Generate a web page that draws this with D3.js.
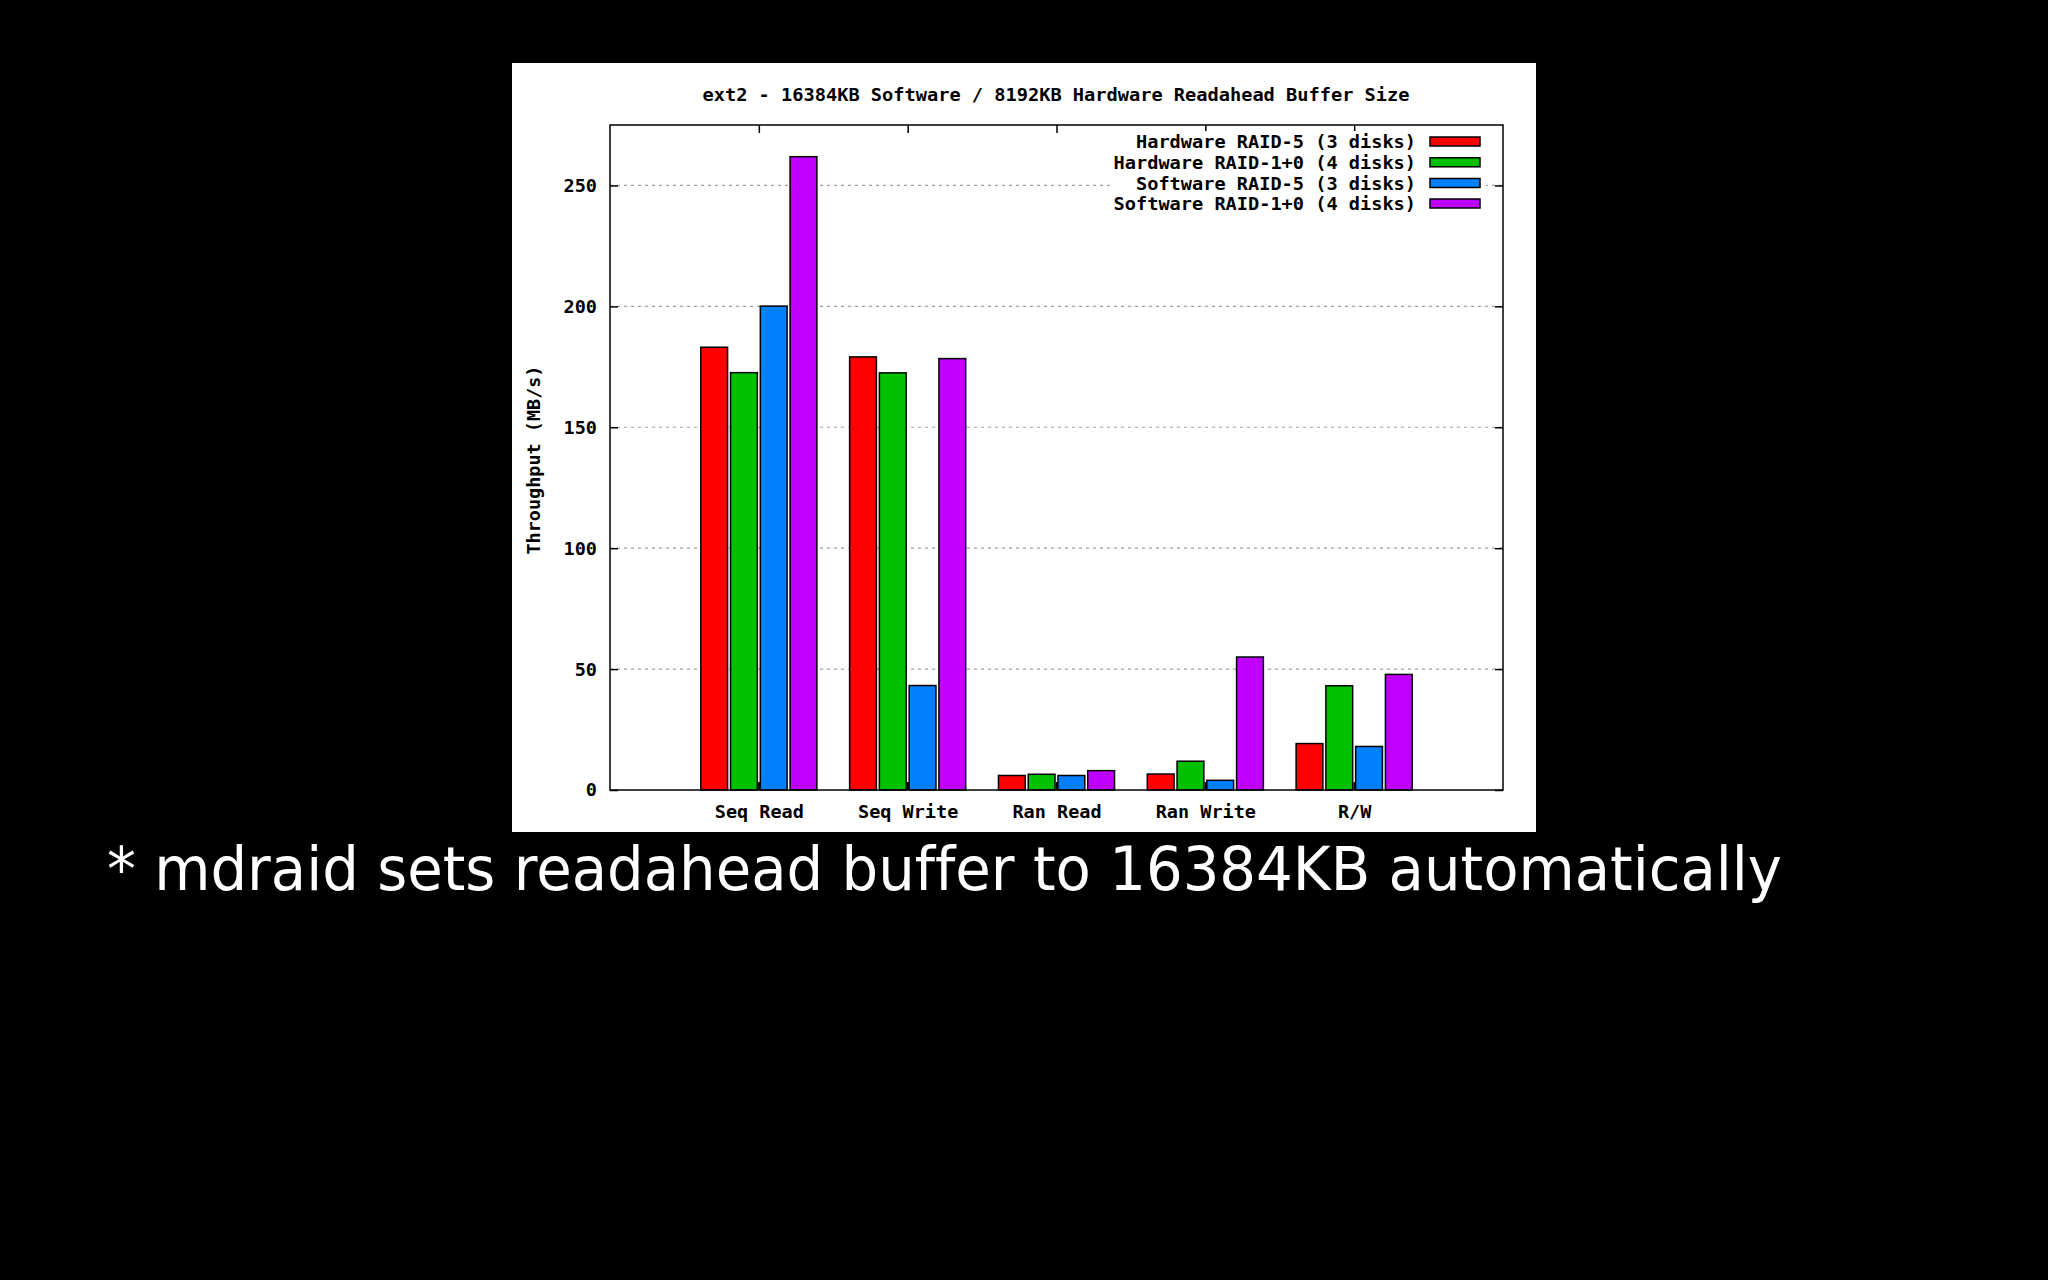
<!DOCTYPE html>
<html>
<head>
<meta charset="utf-8">
<script src="https://cdn.jsdelivr.net/npm/d3@7"></script>
<style>
  html, body { margin: 0; padding: 0; background: #000; }
  svg { display: block; }
  text { font-variant-ligatures: none; font-feature-settings: "liga" 0, "clig" 0; }
</style>
</head>
<body>
<script>
// ---- data ----
const categories = ["Seq Read", "Seq Write", "Ran Read", "Ran Write", "R/W"];
const seriesNames = [
  "Hardware RAID-5 (3 disks)",
  "Hardware RAID-1+0 (4 disks)",
  "Software RAID-5 (3 disks)",
  "Software RAID-1+0 (4 disks)"
];
const hwRaid5  = [183.1, 179.1, 6.0, 6.6, 19.2];
const hwRaid10 = [172.6, 172.5, 6.5, 11.9, 43.1];
const swRaid5  = [200.1, 43.2, 6.0, 4.0, 18.0];
const swRaid10 = [261.9, 178.4, 8.0, 55.0, 47.8];
const seriesValues = [hwRaid5, hwRaid10, swRaid5, swRaid10];
const seriesColors = ["#ff0000", "#00c000", "#0080ff", "#c000ff"];
const yTicks = [0, 50, 100, 150, 200, 250];
const titleText = "ext2 - 16384KB Software / 8192KB Hardware Readahead Buffer Size";
const yLabel = "Throughput (MB/s)";
const footnote = "* mdraid sets readahead buffer to 16384KB automatically";

// ---- layout ----
const W = 2048, H = 1280;
const panel = {x: 512, y: 63, w: 1024, h: 769};
const plot = {left: 610, right: 1503, top: 125, bottom: 790};
const mono = "'DejaVu Sans Mono', 'Liberation Mono', monospace";

const svg = d3.select("body").append("svg").attr("width", W).attr("height", H);
svg.append("rect").attr("width", W).attr("height", H).attr("fill", "#000");
svg.append("rect").attr("x", panel.x).attr("y", panel.y)
  .attr("width", panel.w).attr("height", panel.h).attr("fill", "#fff");

const x = d3.scaleLinear().domain([-1, categories.length]).range([plot.left, plot.right]);
const y = d3.scaleLinear().domain([0, 275]).range([plot.bottom, plot.top]);
const unit = x(1) - x(0);
const slot = 0.2;     // group slot width per bar (in category units)
const bw = 0.18;      // bar width in category units

// title
svg.append("text")
  .attr("x", 1056).attr("y", 94)
  .attr("text-anchor", "middle").attr("dominant-baseline", "central")
  .attr("font-family", mono).attr("font-weight", "bold").attr("font-size", 18.5)
  .attr("textLength", 707).attr("lengthAdjust", "spacingAndGlyphs")
  .text(titleText);

// grid lines
svg.append("g").selectAll("line").data(yTicks.filter(d => d > 0)).join("line")
  .attr("x1", plot.left).attr("x2", plot.right)
  .attr("y1", d => y(d)).attr("y2", d => y(d))
  .attr("stroke", "#a0a0a0").attr("stroke-width", 1.2)
  .attr("stroke-dasharray", "3,4");

// y axis ticks (left & right mirrored)
const yAxisL = d3.axisLeft(y).tickValues(yTicks).tickSize(-8).tickPadding(13).tickFormat(d3.format("d"));
const gy = svg.append("g").attr("transform", `translate(${plot.left},0)`).call(yAxisL);
gy.select(".domain").remove();
gy.selectAll("line").attr("stroke", "#000").attr("stroke-width", 1.5);
gy.selectAll("text").attr("font-family", mono).attr("font-weight", "bold")
  .attr("font-size", 18.5).attr("fill", "#000");
const yAxisR = d3.axisRight(y).tickValues(yTicks).tickSize(-8).tickFormat("");
const gyr = svg.append("g").attr("transform", `translate(${plot.right},0)`).call(yAxisR);
gyr.select(".domain").remove();
gyr.selectAll("line").attr("stroke", "#000").attr("stroke-width", 1.5);

// x ticks bottom (drawn before bars, show in gaps) and top
const xTickVals = categories.map((c, i) => i);
const xAxisB = d3.axisBottom(x).tickValues(xTickVals).tickSize(-8).tickPadding(15)
  .tickFormat(i => categories[i]);
const gx = svg.append("g").attr("transform", `translate(0,${plot.bottom})`).call(xAxisB);
gx.select(".domain").remove();
gx.selectAll("line").attr("stroke", "#000").attr("stroke-width", 2.5);
gx.selectAll("text").attr("font-family", mono).attr("font-weight", "bold")
  .attr("font-size", 18.5).attr("fill", "#000");
const xAxisT = d3.axisTop(x).tickValues(xTickVals).tickSize(-8).tickFormat("");
const gxt = svg.append("g").attr("transform", `translate(0,${plot.top})`).call(xAxisT);
gxt.select(".domain").remove();
gxt.selectAll("line").attr("stroke", "#000").attr("stroke-width", 1.5);

// bars
const barData = [];
seriesValues.forEach((vals, s) => {
  vals.forEach((v, i) => barData.push({s, i, v}));
});
svg.append("g").selectAll("rect").data(barData).join("rect")
  .attr("x", d => x(d.i + (d.s - 1.5) * slot - bw / 2))
  .attr("width", bw * unit)
  .attr("y", d => y(d.v))
  .attr("height", d => y(0) - y(d.v))
  .attr("fill", d => seriesColors[d.s])
  .attr("stroke", "#000").attr("stroke-width", 1.5);

// legend (opaque white background)
const legRowY = [141.5, 162.3, 183, 203.5];
const leg = svg.append("g");
leg.append("rect").attr("x", 1110).attr("y", 131).attr("width", 376).attr("height", 83).attr("fill", "#fff");
seriesNames.forEach((name, s) => {
  leg.append("text")
    .attr("x", 1416).attr("y", legRowY[s])
    .attr("text-anchor", "end").attr("dominant-baseline", "central")
    .attr("font-family", mono).attr("font-weight", "bold").attr("font-size", 18.5)
    .attr("textLength", name.length * 11.2).attr("lengthAdjust", "spacingAndGlyphs")
    .text(name);
  leg.append("rect")
    .attr("x", 1430).attr("y", legRowY[s] - 4.5)
    .attr("width", 50).attr("height", 9)
    .attr("fill", seriesColors[s]).attr("stroke", "#000").attr("stroke-width", 1.5);
});

// frame
svg.append("rect").attr("x", plot.left).attr("y", plot.top)
  .attr("width", plot.right - plot.left).attr("height", plot.bottom - plot.top)
  .attr("fill", "none").attr("stroke", "#000").attr("stroke-width", 1.5);

// y label
svg.append("text")
  .attr("transform", `translate(533,460) rotate(-90)`)
  .attr("text-anchor", "middle").attr("dominant-baseline", "central")
  .attr("font-family", mono).attr("font-weight", "bold").attr("font-size", 18.5)
  .attr("textLength", 189).attr("lengthAdjust", "spacingAndGlyphs")
  .text(yLabel);

// footnote
svg.append("text")
  .attr("x", 107).attr("y", 890)
  .attr("font-family", "'DejaVu Sans', Verdana, sans-serif").attr("font-size", 60)
  .attr("fill", "#fff")
  .attr("textLength", 1675).attr("lengthAdjust", "spacingAndGlyphs")
  .text(footnote);
</script>
</body>
</html>
